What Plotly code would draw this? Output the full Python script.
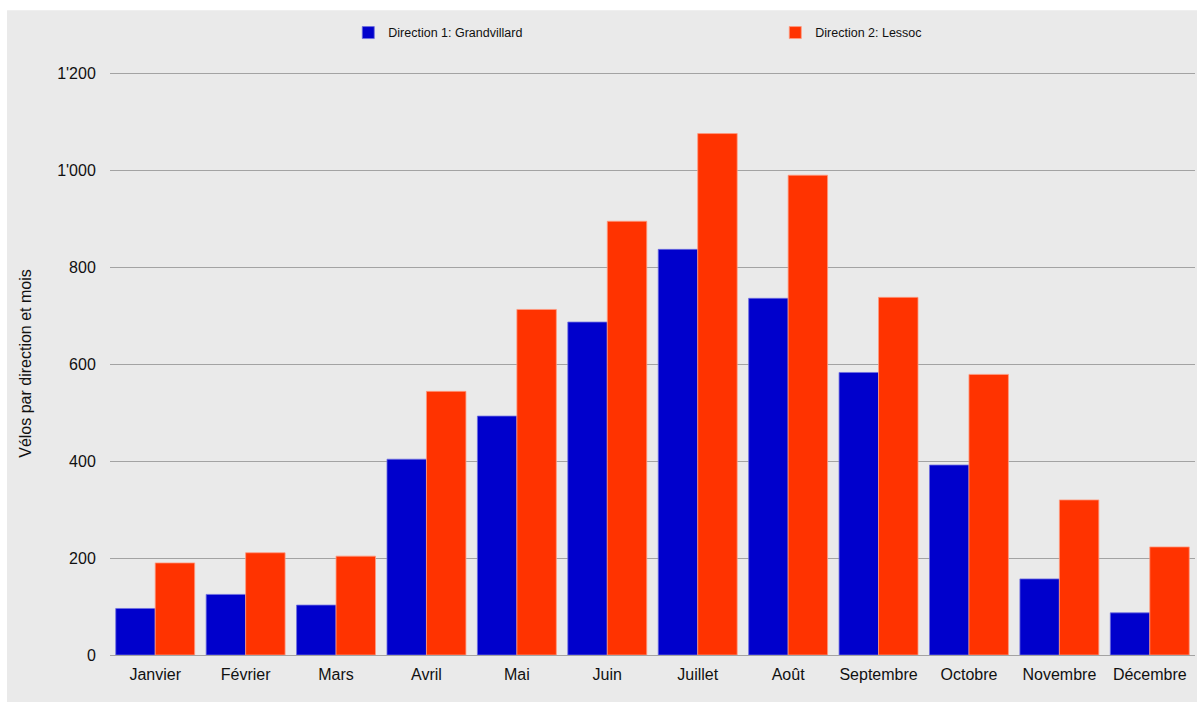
import plotly.graph_objs as go

mois = ['Janvier', 'Février', 'Mars', 'Avril', 'Mai', 'Juin', 'Juillet',
        'Août', 'Septembre', 'Octobre', 'Novembre', 'Décembre']
grandvillard = [96, 125, 103, 404, 493, 687, 837, 736, 583, 392, 157, 87]
lessoc = [190, 211, 204, 544, 713, 895, 1076, 990, 738, 579, 320, 223]

police = 'Liberation Sans, Arial, sans-serif'
fond = '#EAEAEA'

data = [
    go.Bar(x=mois, y=grandvillard, name='Direction 1: Grandvillard',
           marker=dict(color='#0000CC', line=dict(color='#6F6FE0', width=0.8))),
    go.Bar(x=mois, y=lessoc, name='Direction 2: Lessoc',
           marker=dict(color='#FF3300', line=dict(color='#FF9A80', width=0.8))),
]

layout = go.Layout(
    width=1197, height=702,
    margin=dict(l=110, r=2, t=71.5, b=47, autoexpand=False),
    paper_bgcolor='white',
    plot_bgcolor=fond,
    font=dict(family=police, size=16, color='#111111'),
    separators=".'",
    barmode='group',
    bargap=0.127,
    bargroupgap=0,
    showlegend=True,
    legend=dict(orientation='h', x=0.2196, xanchor='left', y=1.067, yanchor='middle',
                font=dict(size=12.5), entrywidth=382, entrywidthmode='pixels',
                bgcolor='rgba(0,0,0,0)', traceorder='normal'),
    xaxis=dict(showgrid=False, ticks='outside', ticklen=5, tickcolor='rgba(0,0,0,0)',
               showline=False, zeroline=False),
    yaxis=dict(range=[0, 1203], tickvals=[0, 200, 400, 600, 800, 1000, 1200],
               tickformat=',d',
               gridcolor='#A3A3A3', gridwidth=1, zeroline=True,
               zerolinecolor='#A3A3A3', zerolinewidth=1,
               ticks='outside', ticklen=10, tickcolor='rgba(0,0,0,0)',
               title=dict(text='Vélos par direction et mois', standoff=21,
                          font=dict(size=16))),
    shapes=[dict(type='rect', xref='paper', yref='paper', layer='below',
                 x0=-0.0949, x1=1.01, y0=-0.1, y1=1.106,
                 fillcolor=fond, line=dict(width=0))],
)

fig = go.Figure(data=data, layout=layout)
# pas de marge autour de la page, pas de barre d'outils
fig.write_html('out.html', config={'displayModeBar': False},
               post_script="document.body.style.margin='0px';")
